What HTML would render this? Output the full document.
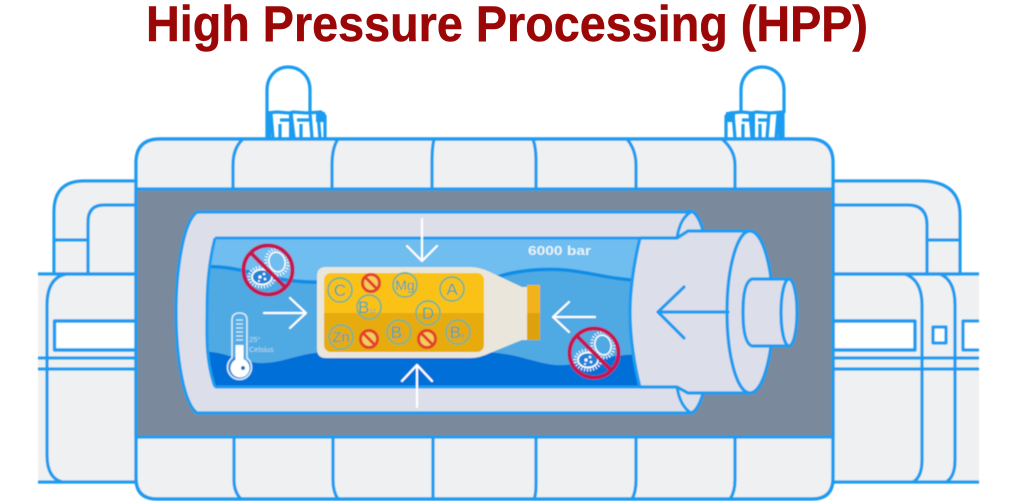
<!DOCTYPE html>
<html><head><meta charset="utf-8"><title>High Pressure Processing (HPP)</title>
<style>html,body{margin:0;padding:0;background:#fff;width:1024px;height:501px;overflow:hidden}svg{display:block}</style></head>
<body>
<svg width="1024" height="501" viewBox="0 0 1024 501" xmlns="http://www.w3.org/2000/svg" font-family="'Liberation Sans',sans-serif">
<defs>
<filter id="soft" x="-2%" y="-2%" width="104%" height="104%"><feGaussianBlur stdDeviation="0.4"/></filter>
<clipPath id="win"><path d="M215,238H660V387H215C205,360 207,330 207,312C207,290 208,265 215,238Z"/></clipPath>
<clipPath id="sign"><circle r="23"/></clipPath>
<clipPath id="liq"><rect x="324" y="273" width="160" height="79" rx="7"/></clipPath>
<g id="bac">
  <g clip-path="url(#sign)">
    <ellipse cx="9" cy="-8" rx="8" ry="10" transform="rotate(-15 9 -8)" fill="none" stroke="#fff" stroke-width="1.5"/>
    <ellipse cx="9" cy="-8" rx="11" ry="13" transform="rotate(-15 9 -8)" fill="none" stroke="#fff" stroke-width="3" stroke-dasharray="1 2"/>
    <ellipse cx="-6" cy="7" rx="10" ry="7.500" fill="#2283d6" stroke="#fff" stroke-width="1.7"/>
    <ellipse cx="-6" cy="7" rx="13" ry="10" fill="none" stroke="#fff" stroke-width="3" stroke-dasharray="1 2"/>
    <circle cx="-8" cy="7" r="1.6" fill="#fff"/><circle cx="-4" cy="4" r="1.3" fill="#fff"/><circle cx="-3" cy="9" r="1.3" fill="#fff"/><circle cx="-9" cy="11" r="1" fill="#fff"/>
  </g>
  <circle r="24.5" fill="none" stroke="#c5144f" stroke-width="4"/>
  <line x1="-17" y1="-17" x2="17" y2="17" stroke="#c5144f" stroke-width="4"/>
</g>
<g id="no">
  <circle r="8.5" fill="#f4cb5c" stroke="#e4412a" stroke-width="3"/>
  <line x1="-6" y1="-6" x2="6" y2="6" stroke="#e4412a" stroke-width="3"/>
</g>
<circle id="vit" r="12" fill="none" stroke="#7db38a" stroke-width="1.9"/>
</defs>

<text x="146" y="41" font-size="50" font-weight="700" fill="#9b0606" stroke="#9b0606" stroke-width=".5" textLength="722" lengthAdjust="spacingAndGlyphs">High Pressure Processing (HPP)</text>

<g filter="url(#soft)" stroke-linejoin="round">
<!-- left machine -->
<path d="M38,274H136V482H38Z" fill="#eff0f2"/>
<path d="M136,181H84Q54,181 54,212V274H136Z" fill="#eff0f2" stroke="#1a9cf0" stroke-width="3.2"/>
<g fill="none" stroke="#1a9cf0" stroke-width="3.2">
<path d="M136,205H104Q88,205 88,222V274"/>
<path d="M54,240H88"/>
<path d="M38,274H136M38,358H136M38,369H136M38,482H136"/>
<path d="M66,274Q47,278 47,305V455Q47,478 62,482"/>
</g>
<rect x="54.500" y="321" width="82" height="29" fill="#fff" stroke="#1a9cf0" stroke-width="3.400"/>

<!-- right machine -->
<path d="M833,274H979V482H833Z" fill="#eff0f2"/>
<path d="M833,181H920Q960,181 960,215V274H833Z" fill="#eff0f2" stroke="#1a9cf0" stroke-width="3.2"/>
<g fill="none" stroke="#1a9cf0" stroke-width="3.2">
<path d="M833,205H908Q927,205 927,225V274"/>
<path d="M927,240H960"/>
<path d="M833,274H979M833,358H979M833,369H979M833,482H979"/>
<path d="M905,274Q922,280 922,305V460Q922,477 913,482"/>
<path d="M940,274Q955,280 955,305V460Q955,477 946,482"/>
</g>
<rect x="833" y="321" width="82" height="29" fill="#fff" stroke="#1a9cf0" stroke-width="3.400"/>
<rect x="933" y="327" width="13" height="16" fill="#fff" stroke="#1a9cf0" stroke-width="3.2"/>
<path d="M979,321H963V350H979" fill="#fff" stroke="#1a9cf0" stroke-width="3.2"/>

<!-- handles -->
<g fill="none" stroke="#1a9cf0" stroke-width="3.2">
<path d="M267,113V90C267,76 277,67 288,67C300,67 310,76 310,90V113"/>
<path d="M741,113V90C741,76 751,67 762,67C774,67 784,76 784,90V113"/>
<path d="M267,138V113L277,112L289,113L293,112L307,113L321,112L325,116V138" />
<path d="M271,114L273,138M291,113L294,138M310,113L312,138M318,114L320,138M280,120H291M297,120H310M280,124V138M301,124V138"/>
<path d="M726,138V116L730,113L742,112L752,113L756,112L770,113L783,112V138"/>
<path d="M733,114L735,138M750,113L752,138M769,113L767,138M778,114L776,138M742,120H752M758,120H769M743,124V138M760,124V138"/>
</g>
<g fill="#1a9cf0"><rect x="266" y="112" width="5" height="26"/><rect x="289" y="112" width="4" height="26"/><rect x="316" y="112" width="9" height="10"/><rect x="726" y="112" width="9" height="10"/><rect x="751" y="112" width="4" height="26"/><rect x="778" y="112" width="4" height="26"/></g>

<!-- main body -->
<path d="M136,189V163Q136,139 160,139H809Q833,139 833,163V478Q833,499 812,499H157Q136,499 136,478Z" fill="#eff0f2" stroke="#1a9cf0" stroke-width="3.400"/>
<rect x="136" y="189" width="697" height="248" fill="#7a8a9c"/>
<g fill="none" stroke="#1a9cf0" stroke-width="3.200">
<path d="M136,189H833M136,437H833M136,189V437M833,189V437"/>
<path d="M233,189V165Q233,148 243,139M332,189V165Q332,148 338,139M432,189V160Q432,148 434,139M536,189V160Q536,148 533,139M636,189V165Q636,150 627,139M735,189V165Q735,150 722,139"/>
<path d="M234,437V480Q234,492 241,499M333,437V480Q333,492 338,499M433,437V499M536,437V485Q536,495 534,499M636,437V480Q636,492 632,499M735,437V480Q735,492 730,499"/>
</g>

<!-- vessel -->
<ellipse cx="690" cy="312" rx="22" ry="101" fill="#dcdfe9" stroke="#1a9cf0" stroke-width="3.200"/>
<path d="M197,212H690V413H197C183,403 176,355 176,312C176,270 183,222 197,212Z" fill="#dcdfe9" stroke="none"/>
<path d="M690,212H197C183,222 176,270 176,312C176,355 183,403 197,413H690" fill="none" stroke="#1a9cf0" stroke-width="3.200"/>
<path d="M677,238Q680,218 691,212M677,387Q680,406 691,413" fill="none" stroke="#1a9cf0" stroke-width="3"/>

<!-- water -->
<g clip-path="url(#win)">
<rect x="200" y="236" width="460" height="155" fill="#6fbdef"/>
<path d="M200,267C225,265 245,271 270,277C295,283 320,283 345,281C400,276 470,284 497,277C515,271 540,268 565,270C590,272 610,280 650,281V391H200Z" fill="#4fa9e3" stroke="#0f8ee6" stroke-width="3.500"/>
<path d="M200,352C225,350 240,363 262,363C285,363 300,352 330,352H480C520,352 540,367 565,365C590,363 605,354 650,354V391H200Z" fill="#0270d8"/>
</g>
<path d="M215,238H645M215,387H645M215,238C208,265 207,290 207,312C207,330 205,360 215,387" fill="none" stroke="#1a9cf0" stroke-width="3"/>

<!-- arrows -->
<g fill="none" stroke="#fff" stroke-width="2.2" stroke-linecap="round" stroke-linejoin="round">
<path d="M264,313H305M290,298L306,313L290,328"/>
<path d="M595,317H553M569,302L553,317L569,332"/>
<path d="M422,219V261M407,246L422,261L437,246"/>
<path d="M417,407V365M402,381L417,365L432,381"/>
</g>
<text x="528" y="255" font-size="13" font-weight="700" fill="#e8f3fb" textLength="63" lengthAdjust="spacingAndGlyphs">6000 bar</text>

<!-- thermometer -->
<path d="M232,358V320Q232,313 239.500,313Q247,313 247,320V358A12,12 0 1 1 232,358Z" fill="#5eb0e6" fill-opacity=".35" stroke="#d8ecf8" stroke-width="1.6"/>
<rect x="235.500" y="345" width="8" height="18" fill="#fff"/>
<circle cx="240" cy="368" r="9.500" fill="#fff"/>
<circle cx="243" cy="368" r="2" fill="#1e70c8"/>
<path d="M236,320H243M236,324H243M236,328H243M236,332H243M236,336H243M236,340H243" stroke="#d6ebf8" stroke-width="1.2"/>
<text x="249" y="342" font-size="7.500" fill="#bcdcf2">25°</text>
<text x="249" y="352" font-size="7.500" fill="#bcdcf2">Celsius</text>

<!-- signs -->
<use href="#bac" x="268" y="270"/>
<use href="#bac" x="594" y="353"/>

<!-- bottle -->
<path d="M326,267H470Q480,267 490,272L522,287H527V340H522L490,353Q480,358 470,358H326Q317,358 317,349V276Q317,267 326,267Z" fill="#ebe6dc"/>
<g clip-path="url(#liq)">
<rect x="324" y="273" width="160" height="40" fill="#fac212"/>
<rect x="324" y="313" width="160" height="39" fill="#e7ab10"/>
</g>
<rect x="527" y="285" width="13" height="28" fill="#f2b21c"/>
<rect x="527" y="313" width="13" height="27" fill="#dda111"/>

<use href="#vit" x="340" y="290"/><use href="#vit" x="405" y="285"/><use href="#vit" x="452" y="289"/>
<use href="#vit" x="369" y="307"/><use href="#vit" x="428" y="313"/><use href="#vit" x="341" y="337"/>
<use href="#vit" x="399" y="332"/><use href="#vit" x="458" y="332"/>
<g font-size="17" fill="#45a0a8" text-anchor="middle">
<text x="340" y="296">C</text><text x="405" y="290" font-size="14">Mg</text><text x="452" y="295">A</text>
<text x="367" y="313">B<tspan font-size="6">12</tspan></text><text x="428" y="319">D</text><text x="341" y="342" font-size="15">Zn</text>
<text x="398" y="338">B<tspan font-size="6">1</tspan></text><text x="457" y="338">B<tspan font-size="6">6</tspan></text>
</g>
<use href="#no" x="371" y="283"/><use href="#no" x="369" y="339"/><use href="#no" x="427" y="339"/>

<!-- piston -->
<path d="M640,240C634,262 630,290 630,312C630,336 634,365 640,387H677L688,393H750V231H688L677,238H640Z" fill="#dcdfe9" stroke="none"/>
<path d="M750,231H688L677,238H640C634,262 630,290 630,312C630,336 634,365 640,387H677L688,393H750" fill="none" stroke="#1a9cf0" stroke-width="3.200"/>
<ellipse cx="750" cy="312" rx="23" ry="81" fill="#dcdfe9" stroke="#1a9cf0" stroke-width="3.200"/>
<path d="M752,279Q743,282 743,312Q743,343 752,346H789V279Z" fill="#dcdfe9" stroke="#1a9cf0" stroke-width="3.200"/>
<ellipse cx="789" cy="312.500" rx="8" ry="33.500" fill="#dcdfe9" stroke="#1a9cf0" stroke-width="3.200"/>
<path d="M728,312H658M684,287L658,312L684,338" fill="none" stroke="#1a9cf0" stroke-width="3.200" stroke-linecap="round" stroke-linejoin="round"/>
</g>
</svg>
</body></html>
